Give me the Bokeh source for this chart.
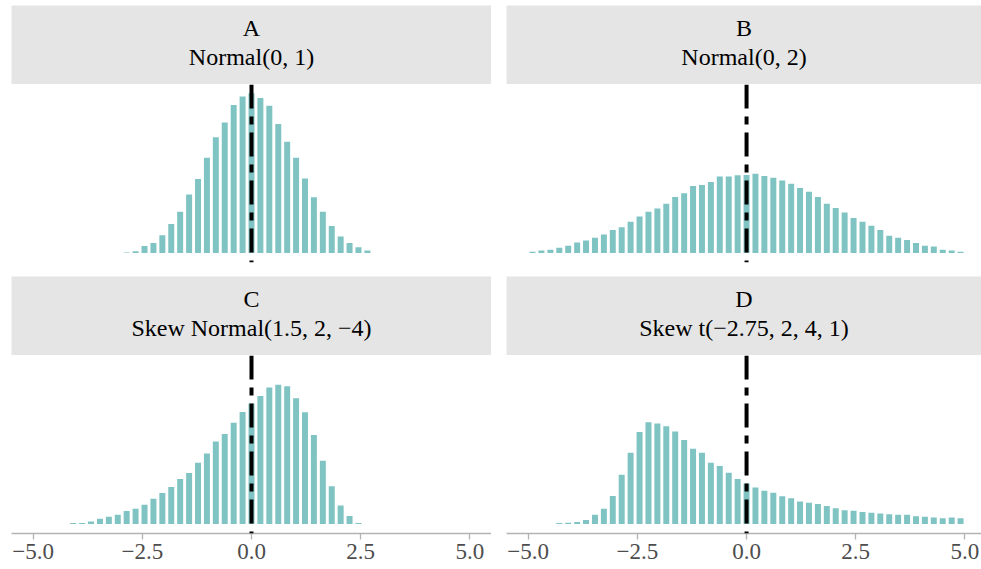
from bokeh.plotting import figure
from bokeh.layouts import column, row
from bokeh.models import Range1d, Span, FixedTicker
from bokeh.core.properties import value
from bokeh.embed import file_html
from bokeh.resources import INLINE

# ---------------- data ----------------
panel_letters = ["A", "B", "C", "D"]
panel_titles = ["Normal(0, 1)", "Normal(0, 2)", "Skew Normal(1.5, 2, \u22124)", "Skew t(\u22122.75, 2, 4, 1)"]

bin_centers = [-4.901, -4.697, -4.492, -4.288, -4.084, -3.880, -3.676, -3.471, -3.267, -3.063,
               -2.859, -2.655, -2.450, -2.246, -2.042, -1.838, -1.634, -1.429, -1.225, -1.021,
               -0.817, -0.613, -0.408, -0.204, 0.000, 0.204, 0.408, 0.613, 0.817, 1.021,
               1.225, 1.429, 1.634, 1.838, 2.042, 2.246, 2.450, 2.655, 2.859, 3.063,
               3.267, 3.471, 3.676, 3.880, 4.084, 4.288, 4.492, 4.697, 4.901]

x_a = bin_centers[10:38]
dens_a = [0.001, 0.004, 0.017, 0.025, 0.044, 0.072, 0.103, 0.146, 0.185, 0.238,
          0.289, 0.326, 0.370, 0.391, 0.399, 0.387, 0.368, 0.322, 0.278, 0.238,
          0.186, 0.139, 0.103, 0.067, 0.041, 0.025, 0.014, 0.006]

x_b = bin_centers[0:49]
dens_b = [0.003, 0.006, 0.008, 0.013, 0.018, 0.026, 0.031, 0.038, 0.046, 0.057,
          0.064, 0.078, 0.091, 0.103, 0.111, 0.123, 0.140, 0.149, 0.167, 0.170,
          0.177, 0.191, 0.191, 0.194, 0.195, 0.198, 0.192, 0.188, 0.181, 0.173,
          0.162, 0.153, 0.140, 0.123, 0.112, 0.101, 0.087, 0.078, 0.068, 0.057,
          0.043, 0.038, 0.032, 0.025, 0.018, 0.016, 0.008, 0.006, 0.003]

x_c = bin_centers[4:37]
dens_c = [0.002, 0.002, 0.006, 0.013, 0.018, 0.023, 0.032, 0.038, 0.048, 0.063,
          0.077, 0.092, 0.112, 0.127, 0.153, 0.176, 0.206, 0.225, 0.253, 0.280,
          0.301, 0.320, 0.341, 0.348, 0.344, 0.314, 0.279, 0.222, 0.158, 0.094,
          0.046, 0.020, 0.002]

x_d = bin_centers[3:49]
dens_d = [0.002, 0.003, 0.005, 0.010, 0.023, 0.038, 0.070, 0.123, 0.178, 0.230,
          0.254, 0.251, 0.244, 0.231, 0.210, 0.188, 0.178, 0.153, 0.145, 0.128,
          0.112, 0.101, 0.091, 0.083, 0.078, 0.069, 0.064, 0.056, 0.053, 0.050,
          0.045, 0.039, 0.034, 0.033, 0.030, 0.028, 0.026, 0.024, 0.023, 0.023,
          0.019, 0.018, 0.016, 0.014, 0.016, 0.014]

tick_values = [-5.0, -2.5, 0.0, 2.5, 5.0]
tick_labels = ["\u22125.0", "\u22122.5", "0.0", "2.5", "5.0"]
reference_value = 0.0

# ---------------- style ----------------
BAR = "#7fc4c3"
STRIP = "#e5e5e5"
FONT = "Liberation Serif"
Y0, Y1 = -0.024, 0.421
BAR_W = 0.137


def header(letter, title, width, left_border, top_border, height):
    h = figure(width=width, height=height, output_backend="svg", toolbar_location=None,
               x_range=Range1d(0, 1), y_range=Range1d(0, 1),
               x_axis_location=None, y_axis_location=None,
               min_border=0, min_border_left=left_border, min_border_top=top_border,
               min_border_right=0, min_border_bottom=0)
    h.background_fill_color = STRIP
    h.border_fill_color = "white"
    h.outline_line_color = None
    h.grid.visible = False
    h.text(x=[0.5, 0.5], y=[0.718, 0.342], text=[letter, title],
           text_font=value(FONT), text_font_size="24px", text_color="black",
           text_align="center", text_baseline="alphabetic")
    return h


def panel(xs, dens, width, left_border, height, bottom_border, x_end, with_axis):
    p = figure(width=width, height=height, output_backend="svg", toolbar_location=None,
               x_range=Range1d(-5.497, x_end), y_range=Range1d(Y0, Y1),
               x_axis_location="below" if with_axis else None, y_axis_location=None,
               min_border=0, min_border_left=left_border, min_border_right=0,
               min_border_top=0, min_border_bottom=bottom_border)
    p.background_fill_color = "white"
    p.border_fill_color = "white"
    p.outline_line_color = None
    p.grid.visible = False
    p.vbar(x=xs, top=dens, bottom=0, width=BAR_W, fill_color=BAR, line_color=None)
    p.add_layout(Span(location=reference_value, dimension="height", line_color="black",
                      line_width=4, line_dash="24 8 8 8"))
    if with_axis:
        ax = p.xaxis[0]
        ax.ticker = FixedTicker(ticks=tick_values)
        ax.major_label_overrides = {v: l for v, l in zip(tick_values, tick_labels)}
        ax.axis_line_color = "#b3b3b3"
        ax.axis_line_width = 1.3
        ax.major_tick_line_color = "#b3b3b3"
        ax.major_tick_line_width = 1.3
        ax.major_tick_out = 6
        ax.major_tick_in = 0
        ax.minor_tick_out = 0
        ax.minor_tick_in = 0
        ax.major_label_standoff = 4
        ax.major_label_text_font = FONT
        ax.major_label_text_font_size = "23px"
        ax.major_label_text_color = "#4d4d4d"
    return p


hA = header(panel_letters[0], panel_titles[0], 491, 11, 5, 84)
hB = header(panel_letters[1], panel_titles[1], 490, 15, 5, 84)
pA = panel(x_a, dens_a, 491, 11, 192, 14, 5.497, False)
pB = panel(x_b, dens_b, 490, 15, 192, 14, 5.38, False)
hC = header(panel_letters[2], panel_titles[2], 491, 11, 0, 79)
hD = header(panel_letters[3], panel_titles[3], 490, 15, 0, 79)
pC = panel(x_c, dens_c, 491, 11, 214, 36, 5.497, True)
pD = panel(x_d, dens_d, 490, 15, 214, 36, 5.38, True)

layout = column(row(hA, hB), row(pA, pB), row(hC, hD), row(pC, pD))

open("out.html", "w").write(file_html(layout, INLINE))
